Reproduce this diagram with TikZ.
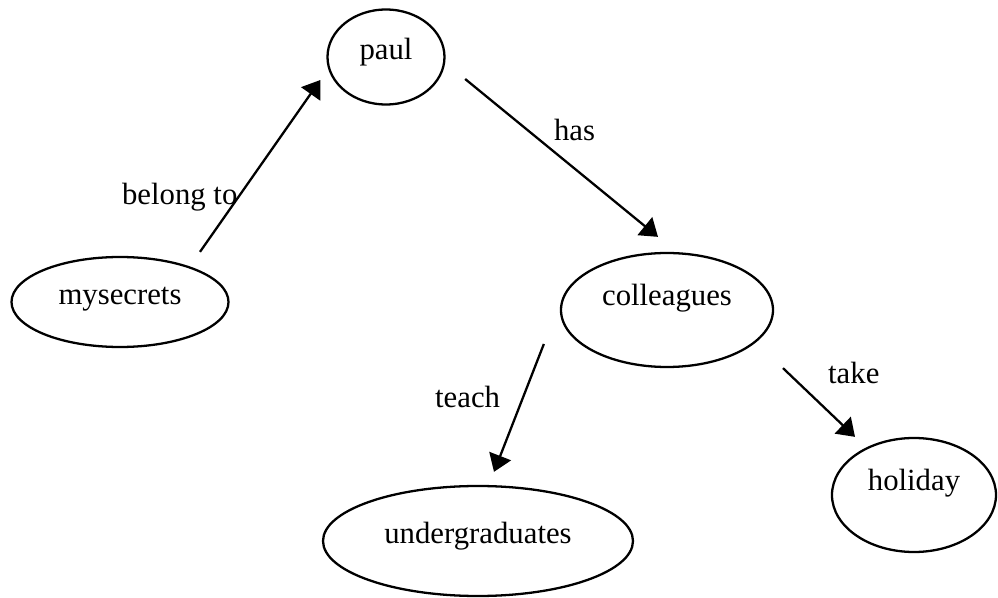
\documentclass[tikz,border=0pt]{standalone}
\usepackage{fontspec}
\setmainfont{Liberation Serif}
\usetikzlibrary{shapes.geometric,arrows.meta}

\begin{document}
\begin{tikzpicture}[font=\fontsize{17.5}{21}\selectfont,
	concept/.style={shape=ellipse,draw=black,line width=1.3pt,inner sep=0pt,text height=12pt},
	rel/.style={line width=1.3pt,-{Triangle[length=0.34cm,width=0.46cm]}},
	tag/.style={inner sep=0pt}]
	\useasboundingbox (0,0) rectangle (19.96,11.94);

	\node[concept,minimum width=2.34cm,minimum height=1.90cm,text depth=9.6pt] (p) at (7.72, 10.80) {paul};
	\node[concept,minimum width=4.34cm,minimum height=1.80cm,text depth=8.6pt] (m) at (2.40, 5.90)   {mysecrets};
	\node[concept,minimum width=4.24cm,minimum height=2.28cm,text depth=17.6pt] (c) at (13.34, 5.74) {colleagues};
	\node[concept,minimum width=3.28cm,minimum height=2.28cm,text depth=17.6pt] (h) at (18.28, 2.04) {holiday};
	\node[concept,minimum width=6.20cm,minimum height=2.20cm,text depth=8.6pt] (u) at (9.56, 1.12)   {undergraduates};

	\path[rel] ([xshift=1.6cm,yshift=0.08cm]m.north) edge node[tag,pos=0.32,left]{belong to} ([xshift=-0.12cm,yshift=-0.46cm]p.west);
	\path[rel] ([xshift=0.39cm,yshift=-0.44cm]p.east) edge node[tag,pos=0.32,right=0.52cm]{has} ([xshift=-0.18cm,yshift=0.30cm]c.north);
	\path[rel] ([xshift=-0.32cm,yshift=-0.68cm]c.west) edge node[tag,pos=0.415,left=0.44cm]{teach} ([xshift=0.32cm,yshift=0.26cm]u.north);
	\path[rel] ([xshift=2.32cm]c.south) edge node[tag,pos=0.07,right=0.78cm]{take} ([xshift=-1.18cm]h.north);
\end{tikzpicture}
\end{document}
